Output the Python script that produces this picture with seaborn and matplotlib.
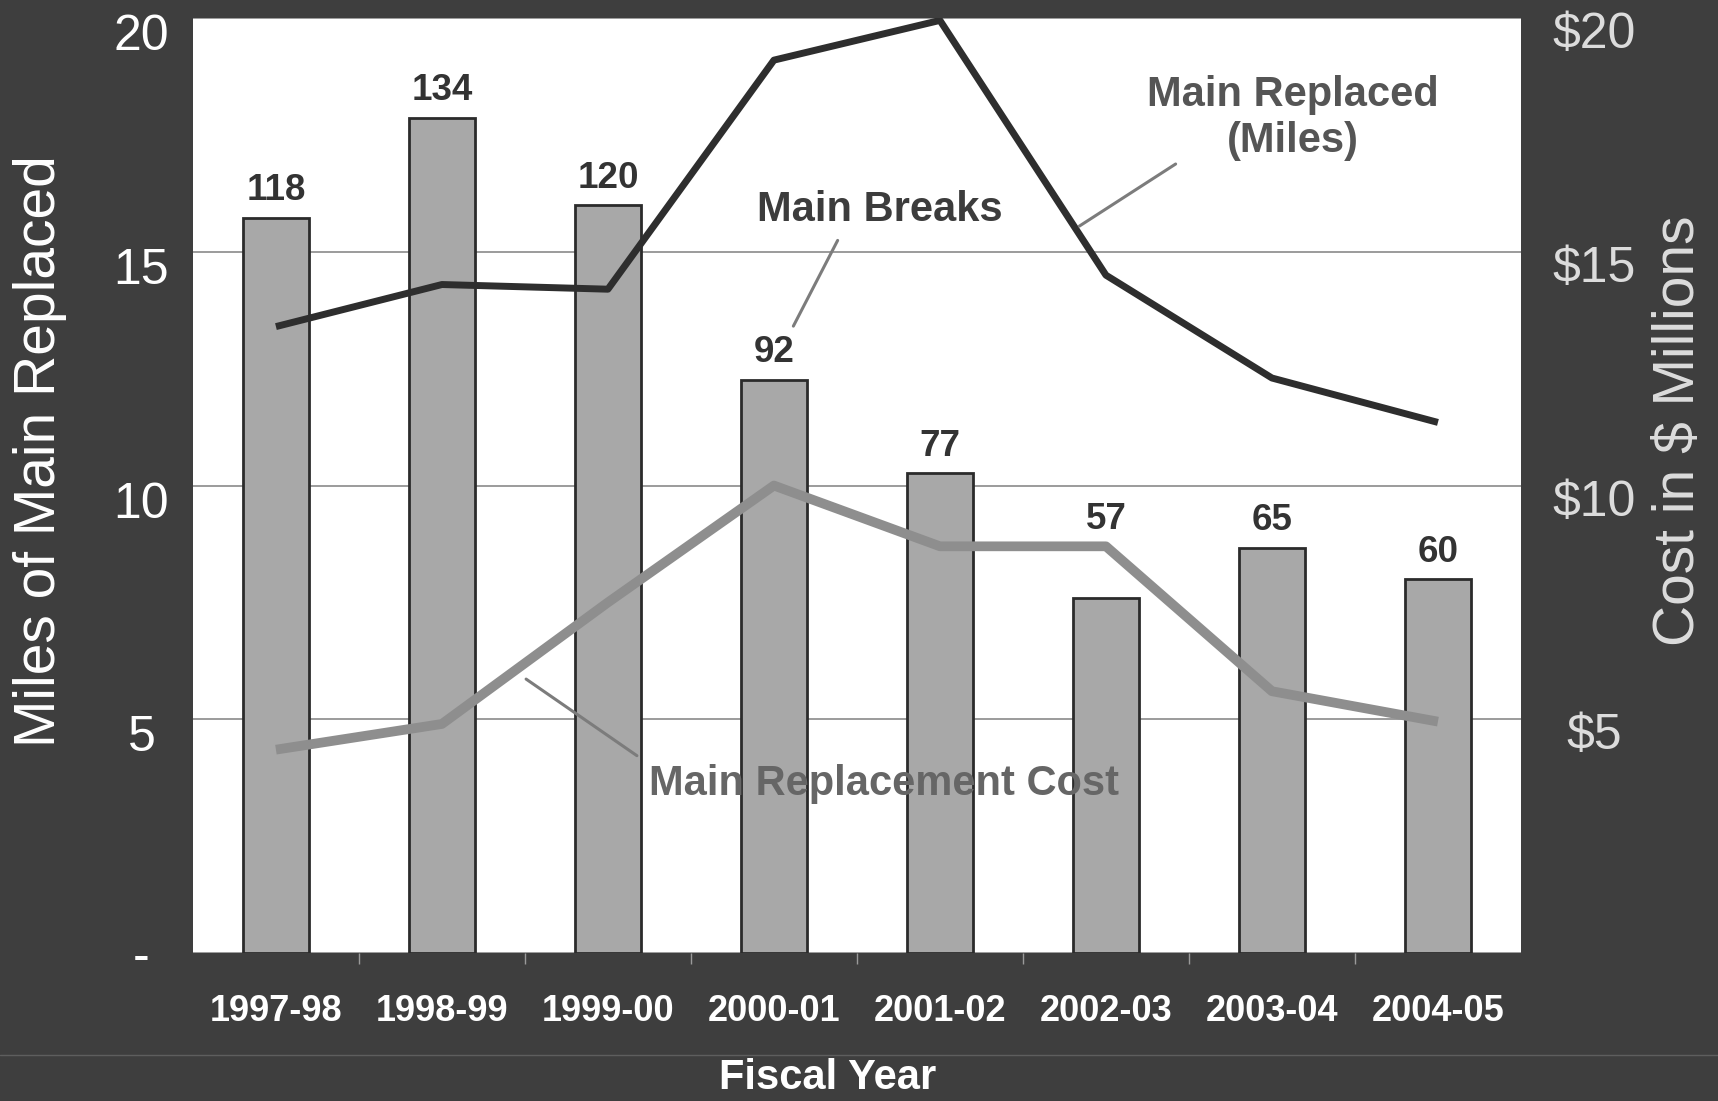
import matplotlib

matplotlib.use("Agg")

import matplotlib.pyplot as plt
import matplotlib.transforms as mtransforms
import numpy as np
import seaborn as sns
from matplotlib.lines import Line2D

# --- data ---
years = ["1997-98", "1998-99", "1999-00", "2000-01", "2001-02", "2002-03", "2003-04", "2004-05"]
main_breaks = [118, 134, 120, 92, 77, 57, 65, 60]
miles_replaced = [13.4, 14.3, 14.2, 19.1, 19.95, 14.5, 12.3, 11.35]
cost_millions = [4.35, 4.9, 7.5, 10.0, 8.7, 8.7, 5.6, 4.95]

left_ticks = [0, 5, 10, 15, 20]
left_labels = ["-", "5", "10", "15", "20"]
right_ticks = [5, 10, 15, 20]
right_labels = ["$5", "$10", "$15", "$20"]

MILES_MAX = 20
COST_MAX = 20
BREAKS_MAX = 150

BG = "#3e3e3e"
BAR = "#a8a8a8"
EDGE = "#2b2b2b"
DARK_LINE = "#2e2e2e"
GRAY_LINE = "#8e8e8e"

sns.set_theme(style="white")
plt.rcParams["font.family"] = ["Liberation Sans", "DejaVu Sans"]

fig = plt.figure(figsize=(17.18, 11.01), dpi=100, facecolor=BG)
ax = fig.add_axes([0.1123, 0.1344, 0.773, 0.8492], facecolor="white")
ax_b = ax.twinx()   # bars, hidden breaks scale
ax_m = ax.twinx()   # miles line, same scale as left axis
ax_c = ax.twinx()   # cost line, right axis

pos = np.arange(len(years))

# --- bars: main breaks ---
sns.barplot(x=years, y=main_breaks, ax=ax_b, color=BAR, edgecolor=EDGE,
            linewidth=2, width=0.40, saturation=1)
ax_b.set_ylim(0, BREAKS_MAX)
ax_b.yaxis.set_visible(False)

# labels sit above the bar, or above the cost line where it is higher
for i, b in enumerate(main_breaks):
    anchor = max(b, cost_millions[i] * BREAKS_MAX / COST_MAX)
    ax_b.annotate(str(b), (pos[i], anchor), xytext=(0, 27), textcoords="offset pixels",
                  ha="center", va="center", fontsize=26.5, fontweight="bold", color="#333333")

# --- lines ---
sns.lineplot(x=pos, y=miles_replaced, ax=ax_m, color=DARK_LINE, linewidth=5,
             solid_capstyle="butt")
ax_m.set_ylim(0, MILES_MAX)
ax_m.yaxis.set_visible(False)

sns.lineplot(x=pos, y=cost_millions, ax=ax_c, color=GRAY_LINE, linewidth=7,
             solid_capstyle="butt")
ax_c.set_ylim(0, COST_MAX)

# --- axes styling ---
ax.set_ylim(0, MILES_MAX)
ax.set_xlim(-0.5, len(years) - 0.5)
for a in (ax, ax_b, ax_m, ax_c):
    for s in a.spines.values():
        s.set_visible(False)
    a.set_xlabel("")

ax.yaxis.grid(True, color="#8a8a8a", linewidth=1.2)
ax.xaxis.grid(False)
ax.set_axisbelow(True)

ax.set_yticks(left_ticks)
ax.set_yticklabels(left_labels)
ax.tick_params(axis="y", length=0, pad=37, labelsize=36, labelcolor="white")
for lab in ax.get_yticklabels()[1:]:
    lab.set_transform(lab.get_transform()
                      + mtransforms.ScaledTranslation(0, -0.14, fig.dpi_scale_trans))
for lab in ax.get_yticklabels():
    lab.set_ha("center")

ax_c.set_yticks(right_ticks)
ax_c.set_yticklabels(right_labels)
ax_c.tick_params(axis="y", length=0, pad=53, labelsize=36, labelcolor="#dcdcdc")
for lab in ax_c.get_yticklabels():
    lab.set_ha("center")
    lab.set_transform(lab.get_transform()
                      + mtransforms.ScaledTranslation(0, -0.12, fig.dpi_scale_trans))

ax.set_xticks(pos)
ax.set_xticklabels(years)
ax.set_xticks(pos[:-1] + 0.5, minor=True)
ax.tick_params(axis="x", which="major", length=0, pad=42, labelsize=26,
               labelcolor="white")
for lab in ax.get_xticklabels():
    lab.set_fontweight("bold")
    lab.set_va("center")
ax.tick_params(axis="x", which="minor", bottom=True, length=8, width=1,
               color="#9a9a9a", direction="out")

ax.set_ylabel("Miles of Main Replaced", fontsize=41, color="white", va="center")
ax.yaxis.set_label_coords(-0.115, 0.537)
ax_c.set_ylabel("Cost in $ Millions", fontsize=41, color="#dcdcdc", rotation=90,
                va="center")
ax_c.yaxis.set_label_coords(1.119, 0.559)

fig.text(0.4815, 0.021, "Fiscal Year", ha="center", va="center", fontsize=30,
         fontweight="bold", color="white")

# --- callouts ---
line_kw = dict(arrowstyle="-", color="#7c7c7c", lw=2.2, shrinkB=0)
ax_c.annotate("Main Breaks", xy=(3.117, 13.41), xytext=(3.639, 15.9),
              ha="center", va="center", fontsize=30, fontweight="bold", color="#3c3c3c",
              arrowprops=dict(line_kw, relpos=(0.35, 0), shrinkA=6))
ax_c.annotate("Main Replaced\n(Miles)", xy=(4.84, 15.55), xytext=(6.127, 17.87),
              ha="center", va="center", fontsize=30, fontweight="bold", color="#555555",
              linespacing=1.2, arrowprops=dict(line_kw, relpos=(0.17, 0.12), shrinkA=0))
ax_c.annotate("Main Replacement Cost", xy=(1.507, 5.86), xytext=(3.665, 3.61),
              ha="center", va="center", fontsize=30, fontweight="bold", color="#666666",
              arrowprops=dict(line_kw, relpos=(0, 1), shrinkA=8))

# faint rule across the slide under the tick labels
fig.add_artist(Line2D([0, 1], [0.042, 0.042], transform=fig.transFigure,
                      color="#5e5e5e", linewidth=1))

fig.savefig("out.png", dpi=100, facecolor=BG)
